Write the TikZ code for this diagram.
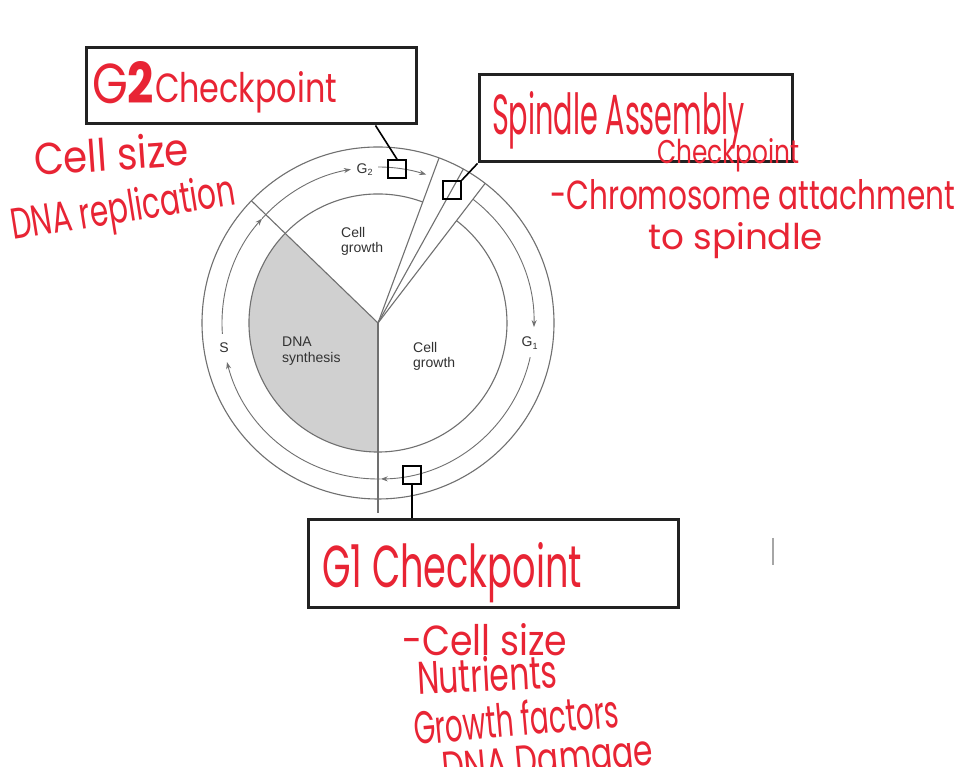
\documentclass[tikz,border=0pt]{standalone}
\usepackage{fontspec}
\setmainfont{Liberation Sans}
\newfontfamily\hand{Poppins}
\usetikzlibrary{arrows.meta,calc}
\definecolor{ink}{RGB}{232,36,52}
\definecolor{ringc}{RGB}{112,112,112}
\definecolor{dnagray}{RGB}{208,208,208}
\definecolor{boxline}{RGB}{34,34,34}
\definecolor{lbl}{RGB}{50,50,50}
\newcommand{\hw}[3]{\resizebox{#1pt}{#2pt}{\hand #3}}
\begin{document}
\begin{tikzpicture}[x=1pt,y=1pt,
  ring/.style={draw=ringc, line width=1.1pt},
  trk/.style={draw=ringc, line width=0.9pt},
  tip/.style={-{Stealth[length=7pt,width=5pt]}},
  ckbox/.style={draw=black, line width=1.6pt, minimum size=18pt, inner sep=0pt},
  labbox/.style={draw=boxline, line width=3pt, inner sep=0pt},
  conn/.style={draw=black, line width=1.6pt},
  hwtext/.style={text=ink, anchor=base west, inner sep=0pt, outer sep=0pt},
  ctext/.style={text=lbl, font=\fontsize{14}{15.5}\selectfont, anchor=base west, inner sep=0pt},
  phase/.style={text=lbl, font=\fontsize{14}{15.5}\selectfont, inner sep=0pt},
]
\useasboundingbox (0,0) rectangle (961,767);
\clip (0,0) rectangle (961,767);
\fill[white] (0,0) rectangle (961,767);

\begin{scope}[shift={(378,444)}]
 \fill[dnagray] (0,0) -- (136:129) arc[start angle=136,end angle=270,radius=129] -- cycle;
 \draw[ring] (0,0) circle[radius=176];
 \draw[ring] (69.7:129) arc[start angle=69.7,end angle=412.5,radius=129];
 \foreach \a in {136,69.7,61,52.5} \draw[ring] (0,0) -- (\a:176);
 \draw[ring] (0,0) -- (270:190);
 % track with arrows
 \draw[trk,tip] (184:156) arc[start angle=184,end angle=138,radius=156];
 \draw[trk,tip] (138:156) arc[start angle=138,end angle=100,radius=156];
 \draw[trk,tip] (90:156) arc[start angle=90,end angle=72,radius=156];
 \draw[trk,tip] (52.5:156) arc[start angle=52.5,end angle=-1.5,radius=156];
 \draw[trk,tip] (-12.7:156) arc[start angle=-12.7,end angle=-89,radius=156];
 \draw[trk,tip] (-89:156) arc[start angle=-89,end angle=-165.5,radius=156];
 % phase labels
 \node[phase] (g2p) at (95:154) {G\raisebox{-0.35ex}{\fontsize{9}{9}\selectfont 2}};
 \node[phase] (sp) at (189:156) {S};
 \node[phase] (g1p) at (-7.5:153) {G\raisebox{-0.35ex}{\fontsize{9}{9}\selectfont 1}};
 % region texts
 \node[ctext] (cga) at (-37,85) {Cell};
 \node[ctext] (cgb) at (-37,70) {growth};
 \node[ctext] (dsa) at (-96,-24) {DNA};
 \node[ctext] (dsb) at (-96,-40) {synthesis};
 \node[ctext] (cgc) at (35,-30) {Cell};
 \node[ctext] (cgd) at (35,-45) {growth};
 % checkpoint boxes
 \node[ckbox] (g2b) at (19,154) {};
 \node[ckbox] (spb) at (74,133) {};
 \node[ckbox] (g1b) at (34,-152) {};
\end{scope}

% label boxes
\node[labbox, minimum width=330pt, minimum height=76pt] (g2lab) at (251,681) {};
\node[labbox, minimum width=313pt, minimum height=87pt] (splab) at (635.5,648.5) {};
\node[labbox, minimum width=370pt, minimum height=88pt] (g1lab) at (493,203) {};

% connectors
\draw[conn] ($(g2lab.south west)+(291,0)$) -- (g2b.north);
\draw[conn] (splab.south west) -- (spb.north east);
\draw[conn] (g1b.south) -- (g1b.south |- g1lab.north);

% handwritten notes
\node[hwtext] (t1) at (92,663) {\hw{62}{42}{G\textbf{2}}};
\node[hwtext] (t2) at (155,664) {\hw{182}{31}{Checkpoint}};
\node[hwtext, rotate=4] (t3) at (35,591) {\hw{155}{34}{Cell size}};
\node[hwtext, rotate=9] (t4) at (13,527) {\hw{227}{33}{DNA replication}};
\node[hwtext] (t5) at (492,632) {\hw{253}{43}{Spindle Assembly}};
\node[hwtext] (t6) at (657,603) {\hw{142}{25}{Checkpoint}};
\node[hwtext] (t7) at (550,557) {\hw{405}{30}{-Chromosome attachment}};
\node[hwtext] (t8) at (648,517) {\hw{175}{27}{to spindle}};
\node[hwtext] (t9) at (322,179) {\hw{260}{45}{G1 Checkpoint}};
\node[hwtext] (t10) at (402,111) {\hw{165}{32}{-Cell size}};
\node[hwtext, rotate=3] (t11) at (418,72) {\hw{140}{35}{Nutrients}};
\node[hwtext, rotate=5] (t12) at (415,22) {\hw{206}{35}{Growth factors}};
\node[hwtext, rotate=5] (t13) at (443,-16) {\hw{212}{30}{DNA Damage}};

% small mark
\draw[draw=gray!70, line width=1.2pt] (773,229) -- (773,202);
\end{tikzpicture}
\end{document}
